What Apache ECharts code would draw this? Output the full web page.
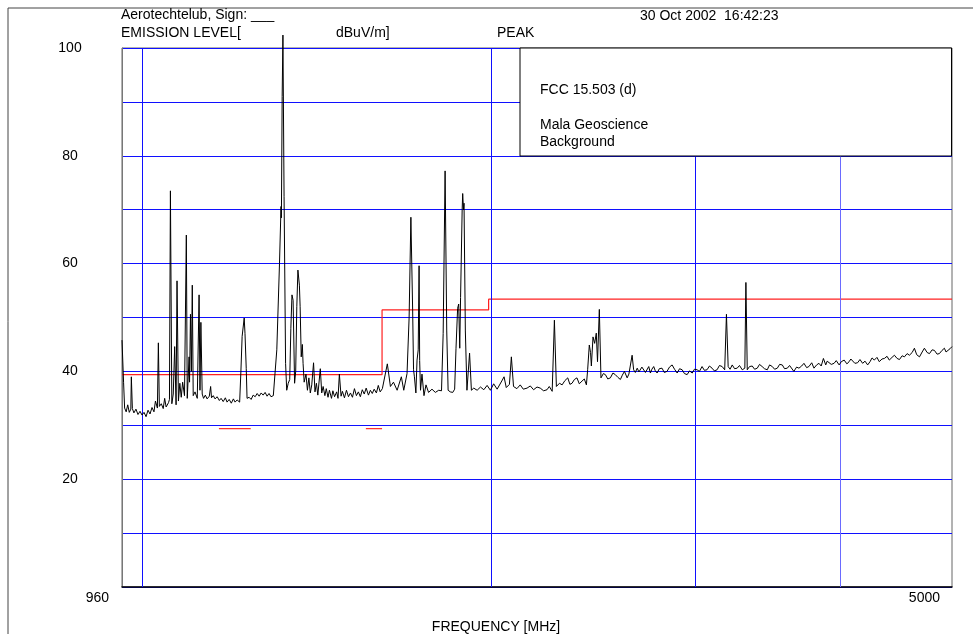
<!DOCTYPE html>
<html>
<head>
<meta charset="utf-8">
<script src="https://cdn.jsdelivr.net/npm/echarts@6/dist/echarts.min.js"></script>
<style>
  html, body { margin: 0; padding: 0; background: #fff; }
  #chart { width: 973px; height: 634px; }
</style>
</head>
<body>
<div id="chart"></div>
<script>
// measured spectrum, [frequency MHz, level dBuV/m]
var spectrum = [
  [960,45.8],[963,38],[965,33.2],[968,32.5],[971,33.8],[974,32.4],[977,33.0],[978,39.0],[980,33.1],[983,32.3],
  [987,33.0],[991,32.0],[995,32.6],[999,31.9],[1003,32.4],[1007,31.6],[1011,32.8],[1015,32.1],[1019,33.3],[1023,32.5],
  [1026,34.5],[1030,33.2],[1032,45.3],[1034,33.5],[1038,34.0],[1042,33.1],[1045,35.0],[1048,33.4],[1053,34.2],[1055,34.8],
  [1057,73.5],[1060,34.0],[1063,35.8],[1066,44.6],[1069,33.8],[1071,56.8],[1074,34.5],[1077,37.8],[1080,35.2],[1083,38.0],
  [1087,35.5],[1091,65.3],[1093,35.0],[1097,42.7],[1098,38],[1100,50.6],[1102,40],[1104,56.0],[1106,35.5],[1110,36.2],
  [1115,35.0],[1119,54.2],[1121,36.5],[1123,49.1],[1126,35.8],[1129,35.0],[1133,35.6],[1137,34.9],[1142,35.4],[1145,37.2],
  [1147,35.1],[1151,35.5],[1155,34.9],[1160,35.3],[1165,34.6],[1169,35.0],[1174,34.4],[1179,35.1],[1183,34.3],[1188,34.8],
  [1193,34.1],[1198,34.9],[1202,34.3],[1207,34.7],[1213,34.3],[1216,40],[1219,46.5],[1224,49.9],[1226,47],[1229,40.5],
  [1231,35.0],[1236,35.2],[1241,34.8],[1246,35.6],[1251,35.3],[1256,35.9],[1261,35.4],[1266,36.0],[1271,35.6],[1276,36.1],
  [1281,35.4],[1286,35.9],[1291,35.3],[1297,35.5],[1306,44],[1313,60],[1317,70.6],[1318,68.5],[1320,91],[1322,102.4],
  [1325,72.4],[1329,41.5],[1332,36.5],[1336,37.8],[1340,38.5],[1343,48],[1346,54.2],[1349,53.2],[1353,37.8],[1356,40],
  [1359,52],[1362,58.8],[1366,56],[1368,52],[1371,42.7],[1374,45],[1376,41.5],[1379,38],[1384,39.5],[1388,36.5],
  [1392,38.8],[1396,36.0],[1400,37.5],[1405,41.6],[1409,36.2],[1413,37.8],[1417,35.6],[1421,38.4],[1424,40.5],[1428,36.0],
  [1432,37.2],[1437,35.5],[1441,36.8],[1446,35.2],[1450,36.5],[1456,35.0],[1460,36.4],[1465,35.3],[1471,36.2],[1475,35.0],
  [1479,39.5],[1484,35.4],[1488,36.3],[1494,35.1],[1500,36.5],[1506,35.3],[1512,36.0],[1518,35.2],[1524,36.8],[1530,35.5],
  [1536,36.2],[1542,35.3],[1548,36.6],[1554,35.8],[1560,36.9],[1567,35.6],[1573,36.5],[1579,35.9],[1585,36.7],[1592,36.0],
  [1598,37.4],[1604,36.2],[1611,36.8],[1617,36.5],[1627,41.4],[1637,37.2],[1647,38.0],[1659,36.5],[1673,39.0],[1681,36.5],
  [1692,39.6],[1699,50],[1705,68.6],[1711,51.4],[1714,40.3],[1717,39],[1722,36],[1726,42.1],[1730,44],[1733,59.6],
  [1735,42],[1738,36.5],[1743,39.5],[1750,35.5],[1757,37.5],[1766,36.1],[1778,36.7],[1790,36.1],[1802,36.5],[1812,36.4],
  [1818,47],[1825,77.2],[1831,47.5],[1836,36.5],[1844,36.2],[1853,36.1],[1860,36.7],[1865,44.3],[1871,51.7],[1875,52.5],
  [1879,44.3],[1882,53.7],[1888,70],[1890,73.0],[1893,70],[1895,71.2],[1900,47.5],[1906,36.5],[1916,43.4],[1923,36.5],
  [1932,36.9],[1945,36.5],[1958,37.1],[1971,36.6],[1984,37.4],[1997,36.5],[2010,37.7],[2024,36.7],[2045,38.4],[2052,39.0],
  [2061,37.0],[2074,37.6],[2082,42.7],[2091,37.2],[2105,36.8],[2119,37.5],[2132,36.7],[2148,36.9],[2162,37.3],[2176,36.6],
  [2191,37.1],[2205,36.9],[2220,36.4],[2235,36.6],[2245,37.2],[2258,36.3],[2268,49.5],[2277,37.2],[2291,37.8],[2303,37.5],
  [2316,38.3],[2329,38.8],[2339,37.6],[2349,37.8],[2360,38.5],[2372,38.8],[2383,37.7],[2396,38.2],[2407,38.6],[2417,37.5],
  [2423,40.3],[2431,44.9],[2437,43.5],[2441,41],[2449,46.4],[2457,45.2],[2465,47.1],[2471,41.8],[2480,51.5],[2488,38.8],
  [2500,39.6],[2510,39.4],[2522,38.6],[2535,38.8],[2548,39.7],[2560,39.4],[2573,38.9],[2586,38.5],[2596,39.3],[2607,40.0],
  [2621,38.8],[2630,39.5],[2638,39.7],[2647,43.0],[2655,40.3],[2664,39.8],[2674,40.6],[2683,39.9],[2691,40.0],[2699,40.8],
  [2709,40.6],[2718,39.8],[2727,40.0],[2736,40.9],[2745,39.7],[2753,40.4],[2763,40.9],[2772,40.1],[2782,39.7],[2794,40.5],
  [2809,40.6],[2822,39.8],[2837,40.0],[2851,40.8],[2866,41.2],[2880,40.4],[2895,39.7],[2909,40.5],[2924,40.3],[2937,39.6],
  [2953,39.4],[2967,40.1],[2983,39.7],[2996,40.4],[3012,40.3],[3026,40.0],[3042,40.9],[3056,40.2],[3072,40.3],[3087,41.0],
  [3103,40.6],[3117,40.1],[3134,40.3],[3149,41.1],[3166,40.9],[3182,40.3],[3193,50.6],[3204,40.9],[3216,40.4],[3230,41.2],
  [3245,40.5],[3262,40.6],[3277,41.1],[3295,40.3],[3312,40.6],[3319,56.5],[3328,40.3],[3343,40.9],[3361,41.0],[3377,40.4],
  [3395,40.6],[3410,41.3],[3428,40.9],[3444,40.5],[3463,40.3],[3479,41.2],[3498,40.9],[3514,40.4],[3533,40.6],[3549,41.3],
  [3568,41.2],[3584,40.5],[3604,40.6],[3620,41.1],[3651,40.0],[3671,40.8],[3688,40.6],[3708,41.0],[3725,41.5],[3745,40.7],
  [3762,40.9],[3783,41.6],[3800,40.6],[3820,41.2],[3838,41.5],[3855,41.0],[3872,42.4],[3890,41.2],[3901,41.9],[3916,42.1],
  [3933,41.3],[3955,41.5],[3972,42.0],[3995,41.2],[4012,41.8],[4035,42.1],[4057,41.4],[4075,41.8],[4089,42.3],[4103,42.1],
  [4122,41.5],[4144,41.6],[4164,42.2],[4186,41.5],[4206,41.9],[4228,41.2],[4248,41.8],[4265,42.5],[4284,42.1],[4307,42.6],
  [4327,41.8],[4350,42.3],[4371,42.4],[4394,42.8],[4414,42.1],[4438,42.6],[4459,43.0],[4483,42.4],[4504,42.2],[4528,42.9],
  [4549,42.7],[4573,43.3],[4594,43.0],[4619,43.5],[4640,44.3],[4661,43.1],[4687,42.7],[4712,43.6],[4733,44.3],[4759,43.5],
  [4781,43.3],[4806,44.0],[4828,43.9],[4854,43.2],[4876,43.3],[4902,43.9],[4925,44.3],[4941,43.6],[4958,43.7],[4980,44.2],
  [5000,44.6]
];

// FCC 15.503 (d) limit line
var limitFreq  = [960, 1610, 1610, 1990, 1990, 5000];
var limitLevel = [39.4, 39.4, 51.4, 51.4, 53.4, 53.4];

// restricted bands, drawn as short segments
var restrictedBands = [[1164, 1240], [1559, 1610]];
var restrictedLevel = 29.4;

var freqGrid = [1000, 2000, 3000, 4000];
var yLabels = [20, 40, 60, 80, 100];
var xMin = 960, xMax = 5000;

var FONT = '14px "Liberation Sans", Arial, sans-serif';

var chart = echarts.init(document.getElementById('chart'), null, { renderer: 'canvas' });

function txt(x, y, s, align) {
  return {
    type: 'text', x: x, y: y, z: 110,
    style: { text: s, font: FONT, fill: '#000', textAlign: align || 'left', textVerticalAlign: 'middle' }
  };
}

var series = [{
  type: 'line',
  data: spectrum,
  symbol: 'none',
  clip: false,
  z: 5,
  lineStyle: { color: '#000', width: 1 },
  markLine: {
    silent: true,
    symbol: 'none',
    label: { show: false },
    data: freqGrid.map(function (f) {
      return { xAxis: f, lineStyle: { color: f === 4000 ? '#6a6aff' : '#1010ff', width: 1, type: 'solid' } };
    })
  }
}, {
  type: 'line',
  data: limitFreq.map(function (f, i) { return [f, limitLevel[i]]; }),
  symbol: 'none',
  z: 4,
  lineStyle: { color: '#ff2020', width: 1.2 }
}];
restrictedBands.forEach(function (b) {
  series.push({
    type: 'line',
    data: [[b[0], restrictedLevel], [b[1], restrictedLevel]],
    symbol: 'none',
    z: 4,
    lineStyle: { color: '#ff3030', width: 1.2 }
  });
});

var option = {
  animation: false,
  backgroundColor: '#fff',
  grid: { left: 122, right: 21, top: 48, bottom: 47, show: true, borderColor: '#666', borderWidth: 1 },
  xAxis: {
    type: 'log', logBase: 10, min: xMin, max: xMax,
    axisLine: { show: true, lineStyle: { color: '#000', width: 1.5 } },
    axisTick: { show: false },
    axisLabel: { show: false },
    splitLine: { show: false },
    minorSplitLine: { show: false }
  },
  yAxis: {
    type: 'value', min: 0, max: 100, interval: 10,
    axisLine: { show: true, lineStyle: { color: '#777' } },
    axisTick: { show: false },
    axisLabel: {
      margin: 52, align: 'center', color: '#000', fontSize: 14,
      fontFamily: '"Liberation Sans", Arial, sans-serif',
      formatter: function (v) { return yLabels.indexOf(v) >= 0 ? String(v) : ''; }
    },
    splitLine: { lineStyle: { color: '#1010ff', width: 1 } }
  },
  graphic: [
    { type: 'rect', z: 1, silent: true, shape: { x: 8, y: 8, width: 2000, height: 2000 },
      style: { fill: 'none', stroke: '#444', lineWidth: 1 } },
    { type: 'rect', z: 100, shape: { x: 520, y: 48, width: 431.5, height: 108 },
      style: { fill: '#fff', stroke: '#000', lineWidth: 1 } },
    txt(121, 15, 'Aerotechtelub, Sign: ___'),
    txt(121, 33, 'EMISSION LEVEL['),
    txt(336, 33, 'dBuV/m]'),
    txt(497, 33, 'PEAK'),
    txt(640, 16, '30 Oct 2002  16:42:23'),
    txt(540, 90, 'FCC 15.503 (d)'),
    txt(540, 125, 'Mala Geoscience'),
    txt(540, 142, 'Background'),
    txt(109, 598, '960', 'right'),
    txt(940, 598, '5000', 'right'),
    txt(496, 627, 'FREQUENCY [MHz]', 'center')
  ],
  series: series
};

chart.setOption(option);
</script>
</body>
</html>
